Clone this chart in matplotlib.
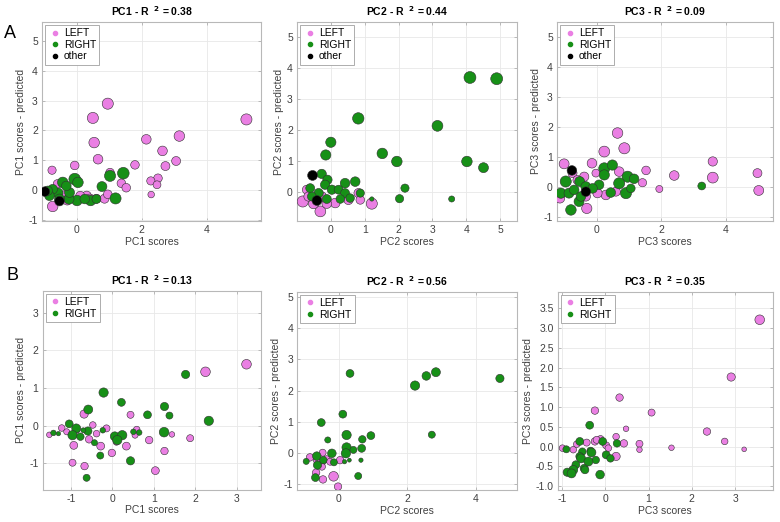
import matplotlib
matplotlib.use("Agg")
import matplotlib.pyplot as plt
from matplotlib.lines import Line2D

plt.rcParams['font.family'] = ['Liberation Sans', 'DejaVu Sans']
plt.rcParams['axes.unicode_minus'] = False

PINK = '#ea7fe3'
GREEN = '#179017'
BLACK = '#000000'

# (x, y, marker area)
A1_LEFT = [(0.95, 2.9, 40), (0.49, 2.42, 40), (5.23, 2.37, 40), (0.53, 1.59, 36), (3.16, 1.81, 36),
           (2.14, 1.70, 30), (2.64, 1.31, 30), (0.65, 1.03, 30), (1.79, 0.84, 24), (-0.07, 0.82, 24),
           (3.06, 0.97, 26), (2.73, 0.80, 26), (-0.77, 0.66, 22), (2.5, 0.39, 24), (2.28, 0.30, 22),
           (2.47, 0.17, 20), (2.29, -0.16, 14), (1.37, 0.22, 24), (1.52, 0.07, 24), (-0.75, -0.56, 36),
           (1.02, 0.58, 24), (-0.6, 0.2, 24), (-0.4, -0.2, 30), (0.3, -0.2, 28), (0.6, -0.3, 26),
           (0.85, -0.3, 26), (0.95, -0.15, 24), (-0.3, -0.35, 30), (0.1, -0.2, 26), (0.4, -0.3, 28)]
A1_RIGHT = [(1.43, 0.56, 44), (1.02, 0.47, 40), (-0.07, 0.36, 44), (0.03, 0.25, 36), (-0.44, 0.25, 36),
            (0.77, 0.11, 32), (1.19, -0.29, 40), (0.42, -0.36, 36), (0.0, -0.36, 36), (-0.25, -0.31, 34),
            (-0.59, -0.11, 34), (-0.75, 0.02, 30), (-0.85, -0.2, 30), (-0.23, -0.09, 32), (0.24, -0.31, 30),
            (0.6, -0.31, 26), (-0.54, -0.31, 32), (-0.9, -0.03, 28), (-0.33, 0.13, 30)]
A1_OTHER = [(-0.99, -0.06, 30), (-0.54, -0.38, 30)]

A2_LEFT = [(-0.83, -0.29, 40), (1.21, -0.36, 40), (-0.31, -0.61, 38), (-0.51, -0.36, 34), (0.82, -0.02, 28),
           (0.87, -0.24, 24), (0.13, -0.34, 30), (0.52, -0.24, 28), (-0.71, 0.09, 26), (-0.27, -0.13, 30),
           (-0.12, -0.36, 30), (-0.66, -0.13, 28)]
A2_RIGHT = [(4.11, 3.71, 46), (4.90, 3.67, 46), (0.81, 2.39, 42), (3.15, 2.15, 38), (0.0, 1.62, 34),
            (-0.15, 1.21, 34), (1.52, 1.26, 36), (1.95, 1.0, 36), (4.02, 1.0, 36), (4.51, 0.80, 32),
            (2.19, 0.14, 22), (2.03, -0.2, 22), (3.57, -0.21, 12), (1.21, -0.21, 6),
            (-0.27, 0.6, 28), (-0.1, 0.41, 28), (0.72, 0.35, 30), (0.42, 0.3, 30), (-0.61, 0.14, 26),
            (-0.17, 0.25, 28), (0.03, 0.09, 28), (0.23, 0.09, 26), (0.42, -0.02, 26), (0.57, -0.18, 24),
            (0.28, -0.21, 24), (-0.12, -0.21, 26), (-0.36, -0.02, 28), (-0.56, -0.13, 26), (0.87, -0.02, 22)]
A2_OTHER = [(-0.54, 0.55, 32), (-0.41, -0.26, 32)]

A3_LEFT = [(0.65, 1.79, 36), (0.86, 1.28, 40), (0.24, 1.17, 38), (-1.0, 0.76, 32), (-0.14, 0.78, 30),
           (3.59, 0.84, 28), (3.59, 0.3, 38), (4.97, 0.45, 26), (5.01, -0.13, 32), (2.4, 0.37, 30),
           (1.53, 0.54, 24), (1.42, 0.13, 22), (1.94, -0.08, 16), (-0.02, 0.45, 20), (0.7, 0.5, 30),
           (-0.3, -0.73, 34), (-1.13, -0.39, 30), (-0.74, 0.45, 26), (-0.38, 0.33, 28), (0.29, -0.28, 30),
           (0.03, -0.22, 28), (0.6, -0.17, 26), (-0.33, -0.33, 28), (-0.59, 0.22, 26)]
A3_RIGHT = [(-0.95, 0.17, 40), (-1.1, -0.22, 34), (-0.79, -0.78, 36), (-0.54, -0.5, 32), (-0.52, 0.17, 32),
            (-0.33, 0.0, 32), (0.24, 0.61, 40), (0.49, 0.72, 34), (0.24, 0.39, 34), (0.96, 0.33, 40),
            (1.16, 0.26, 30), (0.7, 0.11, 40), (0.91, -0.22, 40), (1.06, -0.06, 24), (0.44, -0.2, 30),
            (0.08, 0.06, 30), (-0.12, -0.06, 30), (-0.85, -0.22, 32), (-0.69, -0.11, 30), (3.25, 0.02, 20),
            (-0.48, -0.33, 30)]
A3_OTHER = [(-0.76, 0.54, 30), (-0.33, -0.17, 30)]

B1_LEFT = [(3.24, 1.63, 30), (2.25, 1.43, 30), (-0.68, 0.31, 22), (0.44, 0.29, 16), (-1.22, -0.06, 14),
           (-1.52, -0.24, 10), (-0.47, 0.02, 14), (-0.14, -0.07, 16), (0.59, -0.1, 14), (-0.93, -0.52, 20),
           (-0.56, -0.36, 18), (-0.28, -0.54, 20), (-0.01, -0.72, 18), (0.34, -0.54, 20), (0.89, -0.38, 18),
           (1.26, -0.67, 18), (1.88, -0.33, 16), (1.44, -0.23, 10), (-0.96, -0.98, 16), (-0.67, -1.07, 18),
           (1.04, -1.19, 20), (-0.38, -0.21, 14), (0.1, -0.43, 14), (0.55, -0.25, 12), (-1.1, -0.16, 12),
           (-0.86, -0.12, 12)]
B1_RIGHT = [(1.77, 1.36, 22), (2.33, 0.13, 28), (-0.21, 0.88, 28), (0.22, 0.62, 20), (-0.58, 0.43, 26),
            (1.26, 0.51, 22), (0.85, 0.29, 20), (1.38, 0.27, 16), (-1.04, 0.05, 20), (-0.87, -0.07, 26),
            (-0.59, -0.14, 22), (-0.96, -0.25, 28), (-0.77, -0.29, 18), (-1.42, -0.19, 10), (-1.3, -0.21, 6),
            (-0.23, -0.12, 10), (0.06, -0.28, 26), (0.24, -0.25, 28), (0.12, -0.38, 28), (1.25, -0.17, 30),
            (0.51, -0.16, 10), (0.65, -0.18, 10), (-0.43, -0.45, 12), (-0.29, -0.79, 16), (0.44, -0.93, 22),
            (-0.62, -1.38, 16), (-0.7, -0.12, 8)]

B2_LEFT = [(-0.15, -0.76, 30), (-0.02, -1.09, 18), (-0.46, -0.86, 18), (-0.66, -0.64, 18), (-0.84, -0.15, 18),
           (-0.47, 0.0, 16), (-0.5, -0.32, 18), (-0.35, -0.21, 16), (0.04, -0.24, 18), (-0.25, -0.29, 16),
           (-0.64, -0.24, 16), (-0.49, -0.45, 16)]
B2_RIGHT = [(4.71, 2.39, 22), (2.84, 2.59, 26), (2.56, 2.47, 24), (2.23, 2.16, 28), (0.33, 2.55, 20),
            (0.12, 1.24, 20), (-0.51, 0.97, 20), (0.94, 0.55, 20), (2.72, 0.58, 16), (0.23, 0.57, 28),
            (0.69, 0.43, 18), (-0.32, 0.41, 12), (0.23, 0.17, 28), (0.67, 0.14, 20), (0.43, 0.09, 16),
            (-0.2, -0.02, 24), (0.21, -0.02, 28), (-0.64, -0.11, 24), (-0.95, -0.28, 12), (-0.62, -0.40, 22),
            (-0.45, -0.24, 18), (-0.14, -0.31, 16), (0.65, -0.24, 6), (0.17, -0.29, 6), (0.57, -0.75, 16),
            (-0.68, -0.80, 20), (0.31, -0.24, 5)]

B3_LEFT = [(3.57, 3.21, 30), (2.91, 1.76, 22), (0.33, 1.24, 18), (1.07, 0.86, 16), (-0.24, 0.91, 18),
           (0.48, 0.45, 10), (2.35, 0.38, 18), (2.76, 0.13, 14), (3.21, -0.07, 7), (1.53, -0.03, 10),
           (0.79, 0.07, 16), (0.79, -0.08, 10), (0.43, 0.08, 18), (0.25, -0.25, 22), (0.25, 0.25, 14),
           (-0.99, -0.04, 14), (-0.74, -0.08, 14), (-0.66, 0.06, 14), (-0.43, 0.1, 16), (-0.24, 0.13, 18),
           (-0.11, 0.19, 16), (0.02, 0.03, 16), (-0.2, 0.17, 16), (0.07, -0.04, 14)]
B3_RIGHT = [(-0.36, 0.54, 20), (-0.59, 0.13, 20), (-0.06, 0.13, 20), (0.27, 0.08, 18), (-0.9, -0.07, 16),
            (-0.53, -0.13, 18), (-0.34, -0.11, 18), (-0.59, -0.25, 20), (-0.32, -0.15, 26), (0.02, -0.21, 20),
            (0.12, -0.3, 18), (-0.56, -0.3, 26), (-0.22, -0.34, 18), (-0.39, -0.38, 26), (-0.49, -0.55, 20),
            (-0.68, -0.46, 20), (-0.74, -0.59, 26), (-0.88, -0.65, 22), (-0.78, -0.68, 26), (-0.12, -0.71, 24),
            (-0.47, -0.59, 20)]

R2_A = ['0.38', '0.44', '0.09']
R2_B = ['0.13', '0.56', '0.35']


def scatter_series(ax, pts, color, k):
    xs = [p[0] for p in pts]
    ys = [p[1] for p in pts]
    ss = [p[2] * k for p in pts]
    ax.scatter(xs, ys, s=ss, c=color, edgecolors='#303030', linewidths=0.4, zorder=3)


def style_axes(ax, pc, r2, xlim, ylim, xticks, yticks, show_other):
    ax.set_xlim(xlim)
    ax.set_ylim(ylim)
    ax.set_xticks(xticks)
    ax.set_yticks(yticks)
    ax.grid(True, color='#e8e8e8', linewidth=0.6, zorder=0)
    ax.set_axisbelow(True)
    for sp in ax.spines.values():
        sp.set_color('#b8b8b8')
        sp.set_linewidth(0.8)
    ax.tick_params(direction='in', length=2.5, width=0.6, color='#b0b0b0',
                   labelsize=7.5, labelcolor='#404040', top=True, right=True, pad=3)
    ax.set_xlabel(f'PC{pc} scores', fontsize=7.5, color='#404040', labelpad=1)
    ax.set_ylabel(f'PC{pc} scores - predicted', fontsize=7.5, color='#404040', labelpad=2)
    ax.set_title(f'PC{pc} - R  ' + r'$^{\mathbf{2}}$' + f' = {r2}', fontsize=7.5, fontweight='bold', pad=4)
    handles = [Line2D([], [], ls='none', marker='o', ms=3, color=PINK, label='LEFT'),
               Line2D([], [], ls='none', marker='o', ms=3, color=GREEN, label='RIGHT')]
    if show_other:
        handles.append(Line2D([], [], ls='none', marker='o', ms=3, color=BLACK, label='other'))
    leg = ax.legend(handles=handles, loc='upper left', fontsize=7.5, fancybox=False, framealpha=1,
                    edgecolor='#a0a0a0', borderaxespad=0.3, borderpad=0.3, handlelength=1.2,
                    handletextpad=0.3, labelspacing=0.15)
    leg.get_frame().set_linewidth(0.6)


fig = plt.figure(figsize=(7.8, 5.22), dpi=100)

ax = fig.add_axes([42 / 780, 1 - 221 / 522, 219 / 780, 199 / 522])
scatter_series(ax, A1_LEFT, PINK, 1.6)
scatter_series(ax, A1_RIGHT, GREEN, 1.6)
scatter_series(ax, A1_OTHER, BLACK, 1.6)
style_axes(ax, 1, R2_A[0], (-1.08, 5.68), (-1.05, 5.65), [0, 2, 4], [-1, 0, 1, 2, 3, 4, 5], True)

ax = fig.add_axes([297 / 780, 1 - 221 / 522, 220 / 780, 199 / 522])
scatter_series(ax, A2_LEFT, PINK, 1.6)
scatter_series(ax, A2_RIGHT, GREEN, 1.6)
scatter_series(ax, A2_OTHER, BLACK, 1.6)
style_axes(ax, 2, R2_A[1], (-1.0, 5.5), (-0.92, 5.5), [0, 1, 2, 3, 4, 5], [0, 1, 2, 3, 4, 5], True)

ax = fig.add_axes([557 / 780, 1 - 221 / 522, 216 / 780, 199 / 522])
scatter_series(ax, A3_LEFT, PINK, 1.6)
scatter_series(ax, A3_RIGHT, GREEN, 1.6)
scatter_series(ax, A3_OTHER, BLACK, 1.6)
style_axes(ax, 3, R2_A[2], (-1.22, 5.45), (-1.15, 5.5), [0, 2, 4], [-1, 0, 1, 2, 3, 4, 5], True)

ax = fig.add_axes([42.7 / 780, 1 - 489.5 / 522, 218.3 / 780, 198.8 / 522])
scatter_series(ax, B1_LEFT, PINK, 1.6)
scatter_series(ax, B1_RIGHT, GREEN, 1.6)
style_axes(ax, 1, R2_B[0], (-1.68, 3.59), (-1.69, 3.58), [-1, 0, 1, 2, 3], [-1, 0, 1, 2, 3], False)

ax = fig.add_axes([297.3 / 780, 1 - 490 / 522, 219.4 / 780, 198.3 / 522])
scatter_series(ax, B2_LEFT, PINK, 1.6)
scatter_series(ax, B2_RIGHT, GREEN, 1.6)
style_axes(ax, 2, R2_B[1], (-1.21, 5.2), (-1.2, 5.18), [0, 2, 4], [-1, 0, 1, 2, 3, 4, 5], False)

ax = fig.add_axes([557.7 / 780, 1 - 490 / 522, 215 / 780, 198.3 / 522])
scatter_series(ax, B3_LEFT, PINK, 1.6)
scatter_series(ax, B3_RIGHT, GREEN, 1.6)
style_axes(ax, 3, R2_B[2], (-1.1, 3.87), (-1.1, 3.92), [-1, 0, 1, 2, 3],
           [-1, -0.5, 0, 0.5, 1, 1.5, 2, 2.5, 3, 3.5], False)

fig.text(10 / 780, 1 - 33 / 522, 'A', fontsize=13, ha='center', va='center')
fig.text(12 / 780, 1 - 275 / 522, 'B', fontsize=13, ha='center', va='center')

fig.savefig('out.png', dpi=100)
